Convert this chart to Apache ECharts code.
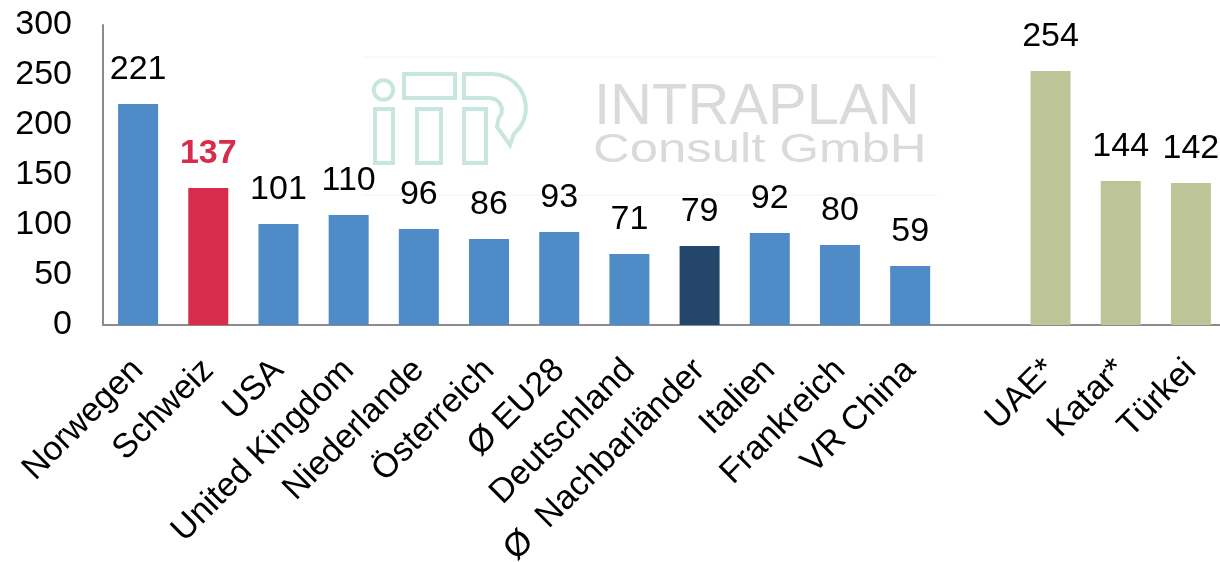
<!DOCTYPE html>
<html>
<head>
<meta charset="utf-8">
<script src="https://cdn.jsdelivr.net/npm/echarts@6/dist/echarts.min.js"></script>
<style>
  html, body { margin: 0; padding: 0; background: #fff; }
  #main { width: 1220px; height: 562px; }
</style>
</head>
<body>
<div id="main"></div>
<script>
var chartDom = document.getElementById("main");
var myChart = echarts.init(chartDom);
var option;

// categories (one empty slot separates the two groups)
const categories = [
  "Norwegen", "Schweiz", "USA", "United Kingdom", "Niederlande", "Österreich",
  "Ø EU28", "Deutschland", "Ø  Nachbarländer", "Italien", "Frankreich", "VR China",
  "", "UAE*", "Katar*", "Türkei",
];
const values = [221, 137, 101, 110, 96, 86, 93, 71, 79, 92, 80, 59, null, 254, 144, 142];
const yTicks = [0, 50, 100, 150, 200, 250, 300];

const blue = "#4f8bc7";
const colorFor = {
  "Schweiz": "#d72c4b",
  "Ø  Nachbarländer": "#23466a",
  "UAE*": "#bdc498",
  "Katar*": "#bdc498",
  "Türkei": "#bdc498",
};

const barData = categories.map(function (c, i) {
  const item = {
    value: values[i],
    itemStyle: { color: colorFor[c] || blue },
  };
  if (c === "Schweiz") {
    item.label = { color: "#d72c4b", fontWeight: "bold" };
  }
  return item;
});

// outline of the "R" bowl in the watermark logo
const logoColor = "#c6e6df";
const rBowl = [[464, 74], [492, 74]];
for (let a = -90; a <= 50; a += 14) {
  const t = (a * Math.PI) / 180;
  rBowl.push([492 + 34 * Math.cos(t), 108 + 34 * Math.sin(t)]);
}
rBowl.push([510, 145], [497, 127]);
for (let a = 45; a >= -90; a -= 27) {
  const t = (a * Math.PI) / 180;
  rBowl.push([490 + 12 * Math.cos(t), 110 + 12 * Math.sin(t)]);
}
rBowl.push([464, 98]);

const wm = { fill: "none", stroke: logoColor, lineWidth: 4 };

option = {
  animation: false,
  textStyle: { fontFamily: "Liberation Sans, Arial, sans-serif" },
  grid: {
    left: 103,
    right: -6,
    top: 25,
    bottom: 237,
    containLabel: false,
    outerBoundsMode: "none",
  },
  graphic: [
    // watermark
    { type: "line", shape: { x1: 362, y1: 57, x2: 937, y2: 57 }, style: { stroke: "#f2f2f2", lineWidth: 1 }, z: -1 },
    { type: "line", shape: { x1: 362, y1: 195, x2: 937, y2: 195 }, style: { stroke: "#f2f2f2", lineWidth: 1 }, z: -1 },
    { type: "circle", shape: { cx: 383.5, cy: 90, r: 9.7 }, style: wm, z: -1 },
    { type: "rect", shape: { x: 375, y: 109, width: 18, height: 54 }, style: wm, z: -1 },
    { type: "rect", shape: { x: 404, y: 74, width: 51, height: 24 }, style: wm, z: -1 },
    { type: "rect", shape: { x: 417, y: 109, width: 24, height: 54 }, style: wm, z: -1 },
    { type: "rect", shape: { x: 464, y: 109, width: 22, height: 54 }, style: wm, z: -1 },
    { type: "polygon", shape: { points: rBowl }, style: wm, z: -1 },
    {
      type: "text",
      x: 594,
      y: 108,
      style: {
        text: "INTRAPLAN",
        fill: "#dadada",
        font: "58px Liberation Sans, Arial, sans-serif",
        textVerticalAlign: "middle",
      },
      z: -1,
    },
    {
      type: "text",
      x: 593,
      y: 151,
      scaleX: 1.24,
      style: {
        text: "Consult GmbH",
        fill: "#dadada",
        font: "41px Liberation Sans, Arial, sans-serif",
        textVerticalAlign: "middle",
      },
      z: -1,
    },
  ],
  xAxis: {
    type: "category",
    data: categories,
    axisLine: { lineStyle: { color: "#8c8c8c", width: 2 } },
    axisTick: { show: false },
    axisLabel: {
      interval: 0,
      rotate: 45,
      margin: 40,
      color: "#000",
      fontSize: 34,
    },
  },
  yAxis: {
    type: "value",
    min: yTicks[0],
    max: yTicks[yTicks.length - 1],
    interval: 50,
    splitLine: { show: false },
    axisLine: { show: true, lineStyle: { color: "#8c8c8c", width: 2 } },
    axisTick: { show: false },
    axisLabel: { color: "#000", fontSize: 34, margin: 31 },
  },
  series: [
    {
      type: "bar",
      barWidth: 40,
      data: barData,
      label: {
        show: true,
        position: "top",
        distance: 17,
        color: "#000",
        fontSize: 34,
      },
    },
  ],
};

option && myChart.setOption(option);
</script>
</body>
</html>
